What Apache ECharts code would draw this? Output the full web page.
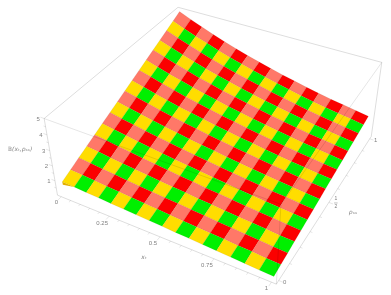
<!DOCTYPE html>
<html><head><meta charset="utf-8">
<style>html,body{margin:0;padding:0;background:#fff}#c{width:391px;height:295px}</style>
<script src="https://cdn.jsdelivr.net/npm/echarts@6/dist/echarts.min.js"></script>
</head><body><div id="c"></div>
<script>
// ---- data ----
const xTicks = [0, 0.25, 0.5, 0.75, 1];
const xTickLabels = ['0', '0.25', '0.5', '0.75', '1'];
const rhoTicks = [0, 0.5, 1];
const rhoTickLabels = ['0', '1/2', '1'];
const zTicks = [1, 2, 3, 4, 5];
const zTickLabels = ['1', '2', '3', '4', '5'];
const xMinorTicks = [0.05,0.1,0.15,0.2,0.3,0.35,0.4,0.45,0.55,0.6,0.65,0.7,0.8,0.85,0.9,0.95];
const rhoMinorTicks = [0.1,0.2,0.3,0.4,0.6,0.7,0.8,0.9];
const zMinorTicks = [0.5,1.5,2.5,3.5,4.5];
const xTitle = 'xₜ';
const rhoTitle = 'ρₛₛ';
const zTitle = '𝔹(xₜ,ρₛₛ)';
const cellColors = [['#ffdd00', '#00f000'], ['#ff7868', '#fb0000']];
const rimDepth = [0.22, 0];
// surface height: one row per rho step, one column per x step
const zGrid = [
[0.85,0.81,0.76,0.72,0.67,0.63,0.58,0.54,0.50,0.45,0.41,0.36,0.32,0.27,0.23,0.18,0.14],
[1.10,1.05,0.98,0.92,0.86,0.81,0.74,0.69,0.64,0.58,0.53,0.48,0.43,0.37,0.33,0.27,0.23],
[1.36,1.28,1.20,1.13,1.05,0.98,0.91,0.85,0.79,0.72,0.66,0.59,0.54,0.47,0.42,0.36,0.31],
[1.61,1.52,1.42,1.33,1.24,1.16,1.07,1.00,0.93,0.85,0.78,0.71,0.64,0.58,0.52,0.45,0.40],
[1.86,1.75,1.64,1.54,1.43,1.34,1.24,1.15,1.07,0.98,0.91,0.83,0.75,0.68,0.62,0.55,0.48],
[2.12,1.99,1.86,1.74,1.62,1.51,1.40,1.31,1.21,1.12,1.03,0.94,0.86,0.78,0.71,0.64,0.57],
[2.37,2.22,2.08,1.94,1.81,1.69,1.57,1.46,1.36,1.25,1.16,1.06,0.97,0.88,0.81,0.73,0.65],
[2.62,2.46,2.30,2.15,2.00,1.86,1.73,1.61,1.50,1.38,1.28,1.17,1.08,0.98,0.90,0.82,0.74],
[2.88,2.70,2.52,2.35,2.19,2.04,1.90,1.77,1.64,1.52,1.41,1.29,1.19,1.09,1.00,0.91,0.83],
[3.13,2.93,2.73,2.55,2.37,2.22,2.06,1.92,1.78,1.65,1.53,1.41,1.29,1.19,1.10,1.00,0.91],
[3.38,3.17,2.95,2.76,2.56,2.39,2.22,2.07,1.93,1.78,1.65,1.52,1.40,1.29,1.19,1.09,1.00],
[3.63,3.40,3.17,2.96,2.75,2.57,2.39,2.22,2.07,1.91,1.78,1.64,1.51,1.39,1.29,1.18,1.08],
[3.89,3.64,3.39,3.17,2.94,2.75,2.55,2.38,2.21,2.05,1.90,1.76,1.62,1.49,1.39,1.28,1.17],
[4.14,3.87,3.61,3.37,3.13,2.92,2.72,2.53,2.35,2.18,2.03,1.87,1.73,1.59,1.48,1.37,1.25],
[4.39,4.11,3.83,3.57,3.32,3.10,2.88,2.68,2.50,2.31,2.15,1.99,1.83,1.70,1.58,1.46,1.34],
[4.65,4.34,4.05,3.78,3.51,3.27,3.05,2.84,2.64,2.45,2.28,2.10,1.94,1.80,1.67,1.55,1.42],
[4.90,4.58,4.27,3.98,3.70,3.45,3.21,2.99,2.78,2.58,2.40,2.22,2.05,1.90,1.77,1.64,1.51]
];

// ---- camera: a projective map fitted to the box corners seen in the picture ----
const ZMAX = 5, PAD = 0.02;
const cameraFit = [
  [0,0,0, 56.7,196.7],[1,0,0, 276.3,281.7],[1,1,0, 372,137],
  [0,0,1, 45,116],[1,0,1, 281,208],[1,1,1, 381,61],[0,1,1, 178,8]
];
function solveCamera(pts){
  const A=[],b=[];
  pts.forEach(([u,v,w,X,Y])=>{
    A.push([u,v,w,1,0,0,0,0,-X*u,-X*v,-X*w]); b.push(X);
    A.push([0,0,0,0,u,v,w,1,-Y*u,-Y*v,-Y*w]); b.push(Y);
  });
  const n=11,M=[];
  for(let r=0;r<n;r++){const row=[];for(let c=0;c<n;c++){let s=0;for(let k=0;k<A.length;k++)s+=A[k][r]*A[k][c];row.push(s+(r===c?1e-9:0));}
    let s=0;for(let k=0;k<A.length;k++)s+=A[k][r]*b[k];row.push(s);M.push(row);}
  for(let c=0;c<n;c++){let p=c;for(let r=c+1;r<n;r++)if(Math.abs(M[r][c])>Math.abs(M[p][c]))p=r;
    [M[c],M[p]]=[M[p],M[c]];
    for(let r=0;r<n;r++){if(r===c)continue;const f=M[r][c]/M[c][c];for(let k=c;k<=n;k++)M[r][k]-=f*M[c][k];}}
  return M.map((row,i)=>row[n]/row[i]);
}
const H = solveCamera(cameraFit);
function boxPt(u,v,w){
  const d=H[8]*u+H[9]*v+H[10]*w+1;
  return [(H[0]*u+H[1]*v+H[2]*w+H[3])/d,(H[4]*u+H[5]*v+H[6]*w+H[7])/d];
}
const inset = t => PAD+(1-2*PAD)*t;
const surfPt = (i,j,drop) => boxPt(inset(i/16),inset(j/16),(zGrid[j][i]-(drop||0))/ZMAX);

const cells=[];
for(let j=15;j>=0;j--)for(let i=0;i<16;i++)cells.push([i,j]);

const GRAY='rgba(0,0,0,0.17)', GRAY_FRONT='rgba(0,0,0,0.13)', TXT='#808080', FONT='"Liberation Sans",sans-serif';
const backEdges=[[[0,0,0],[1,0,0]],[[1,0,0],[1,1,0]],[[0,0,0],[0,0,1]],[[1,1,0],[1,1,1]],[[0,0,1],[0,1,1]],[[0,1,1],[1,1,1]]];
const frontEdges=[[[0,0,1],[1,0,1]],[[1,0,1],[1,1,1]],[[1,0,0],[1,0,1]]];
const seg=(a,b,w,col)=>{const p=boxPt(...a),q=boxPt(...b);
  return {type:'line',shape:{x1:p[0],y1:p[1],x2:q[0],y2:q[1]},style:{stroke:col||GRAY,lineWidth:w||0.8,fill:null}};};
const label=(t,x,y,o)=>({type:'text',x,y,style:Object.assign({text:t,fill:TXT,font:'6px '+FONT,align:'center',verticalAlign:'middle'},o||{})});

function axisGroup(){
  const c=[];
  backEdges.forEach(e=>c.push(seg(e[0],e[1])));
  const tick=(a,len)=>{ c.push(seg(a,[a[0]+len[0],a[1]+len[1],a[2]+len[2]],0.6)); };
  xTicks.forEach(t=>tick([inset(t),0,0],[0,-0.022,0]));
  xMinorTicks.forEach(t=>tick([inset(t),0,0],[0,-0.012,0]));
  rhoTicks.forEach(t=>tick([1,inset(t),0],[0.018,0,0]));
  rhoMinorTicks.forEach(t=>tick([1,inset(t),0],[0.01,0,0]));
  zTicks.forEach(t=>tick([0,0,t/ZMAX],[-0.018,0,0]));
  zMinorTicks.forEach(t=>tick([0,0,t/ZMAX],[-0.01,0,0]));
  xTicks.forEach((t,k)=>{const p=boxPt(inset(t),0,0),s=xTickLabels[k];
    c.push(label(s,p[0]+(s.length>1?-7:-5),p[1]+(s.length>1?7:6)));});
  rhoTicks.forEach((t,k)=>{const p=boxPt(1,inset(t),0),s=rhoTickLabels[k];
    if(s.indexOf('/')>=0){const q=s.split('/');
      c.push(label(q[0],p[0]+7,p[1]-3.5,{font:'5px '+FONT}));
      c.push(label(q[1],p[0]+7,p[1]+4.5,{font:'5px '+FONT}));
      c.push({type:'line',shape:{x1:p[0]+5.2,y1:p[1]+0.5,x2:p[0]+8.8,y2:p[1]+0.5},style:{stroke:TXT,lineWidth:0.5}});
    } else c.push(label(s,p[0]+6,p[1]+2));});
  zTicks.forEach((t,k)=>{const p=boxPt(0,0,t/ZMAX);c.push(label(zTickLabels[k],p[0]-6,p[1]+0.5));});
  c.push(label(xTitle,144,257,{font:'italic 6px "DejaVu Sans",sans-serif'}));
  c.push(label(rhoTitle,353,212,{font:'italic 6px "DejaVu Sans",sans-serif'}));
  c.push(label(zTitle,20,149,{font:'italic 6px "DejaVu Sans",sans-serif'}));
  return {type:'group',children:c};
}

const chart=echarts.init(document.getElementById('c'),null,{renderer:'canvas'});
chart.setOption({
  animation:false,
  backgroundColor:'#fff',
  series:[
    {type:'custom',coordinateSystem:'none',silent:true,z:1,data:[[0]],renderItem:axisGroup},
    {type:'custom',coordinateSystem:'none',silent:true,z:2,data:[[0]],
     renderItem:()=>({type:'polygon',
       shape:{points:[surfPt(0,0),surfPt(1,0),surfPt(1,0,rimDepth[1]),surfPt(0,0,rimDepth[0])]},
       style:{fill:'#e3b000'}})},
    {type:'custom',coordinateSystem:'none',silent:true,z:3,data:cells,
     renderItem:(p,api)=>{
       const i=api.value(0),j=api.value(1);
       return {type:'polygon',
         shape:{points:[surfPt(i,j),surfPt(i+1,j),surfPt(i+1,j+1),surfPt(i,j+1)]},
         style:{fill:cellColors[j%2][i%2],stroke:'rgba(90,70,40,0.18)',lineWidth:0.4}};
     }},
    {type:'custom',coordinateSystem:'none',silent:true,z:4,data:[[0]],
     renderItem:()=>({type:'group',children:frontEdges.map(e=>seg(e[0],e[1],0.8,GRAY_FRONT))})}
  ]
});
</script></body></html>
